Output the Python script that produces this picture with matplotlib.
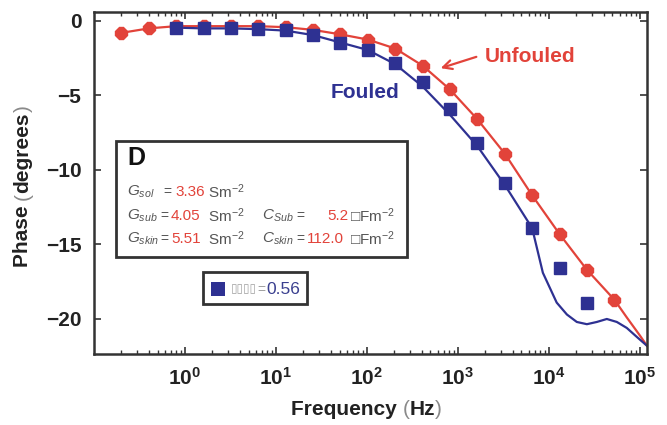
import math
import matplotlib
matplotlib.use("Agg")
import matplotlib.pyplot as plt
from matplotlib.patches import Rectangle
from matplotlib.ticker import LogLocator, FixedLocator, FuncFormatter, NullFormatter

plt.rcParams['font.family'] = ['Liberation Sans', 'DejaVu Sans']
plt.rcParams['mathtext.fontset'] = 'custom'
plt.rcParams['mathtext.rm'] = 'Liberation Sans'
plt.rcParams['mathtext.it'] = 'Liberation Sans:italic'
plt.rcParams['mathtext.bf'] = 'Liberation Sans:bold'

# ---- data ----
unfouled_freq = [0.2, 0.4, 0.8, 1.6, 3.2, 6.4, 12.8, 25.6, 51.2, 102.4, 204.8, 409.6,
                 819.2, 1638.4, 3276.8, 6553.6, 13107.2, 26214.4, 52428.8]
unfouled_phase = [-0.8, -0.5, -0.35, -0.35, -0.35, -0.35, -0.42, -0.6, -0.9, -1.25, -1.85,
                  -3.0, -4.6, -6.6, -8.9, -11.7, -14.3, -16.7, -18.7]

fouled_freq = [0.8, 1.6, 3.2, 6.4, 12.8, 25.6, 51.2, 102.4, 204.8, 409.6, 819.2, 1638.4,
               3276.8, 6553.6, 13107.2, 26214.4]
fouled_phase = [-0.45, -0.5, -0.5, -0.55, -0.62, -0.95, -1.45, -1.95, -2.8, -4.1, -5.9,
                -8.2, -10.9, -13.9, -16.6, -18.9]

# fitted model curves
unfouled_fit_freq = [0.2, 0.4, 0.8, 1.6, 3.2, 6.4, 12.8, 25.6, 51.2, 102.4, 204.8, 409.6,
                     819.2, 1638.4, 3276.8, 6553.6, 13107.2, 26214.4, 52428.8, 72000,
                     100000, 120000]
unfouled_fit_phase = [-0.8, -0.5, -0.35, -0.35, -0.35, -0.35, -0.42, -0.6, -0.9, -1.25,
                      -1.85, -3.0, -4.6, -6.6, -8.9, -11.7, -14.3, -16.7, -18.7, -19.9,
                      -21.1, -21.8]

fouled_fit_freq = [0.8, 1.6, 3.2, 6.4, 12.8, 25.6, 51.2, 102.4, 204.8, 409.6, 819.2,
                   1638.4, 3276.8, 6553.6, 8600, 12200, 15800, 20300, 26200, 33700,
                   43400, 55900, 71900, 92600, 120000]
fouled_fit_phase = [-0.45, -0.5, -0.5, -0.55, -0.65, -0.95, -1.45, -1.95, -2.9, -4.4,
                    -6.3, -8.4, -11.0, -13.9, -16.9, -18.9, -19.7, -20.2, -20.35, -20.2,
                    -20.0, -20.2, -20.6, -21.2, -21.8]

yticks = [0, -5, -10, -15, -20]
xticks = [1e0, 1e1, 1e2, 1e3, 1e4, 1e5]

RED = '#E2433A'
BLUE = '#2E3192'
GRAY = '#555555'
LIGHT = '#8a8a8a'
DARK = '#222222'
FRAME = '#333333'

W, H = 667, 425
fig = plt.figure(figsize=(W / 100, H / 100), dpi=100)


def fp(x, y):
    return (x / W, 1 - y / H)


L, R, T, B = 94, 647, 12, 354
ax = fig.add_axes([L / W, 1 - B / H, (R - L) / W, (B - T) / H])

ax.plot(unfouled_fit_freq, unfouled_fit_phase, color=RED, lw=1.6, zorder=2)
ax.plot(fouled_fit_freq, fouled_fit_phase, color=BLUE, lw=1.6, zorder=2)
ax.plot(unfouled_freq, unfouled_phase, ls='none', marker='8', ms=9, color=RED,
        mec=RED, zorder=3)
ax.plot(fouled_freq, fouled_phase, ls='none', marker='s', ms=8, color=BLUE,
        mec=BLUE, zorder=4)

ax.set_xscale('log')
ax.set_xlim(0.1, 1.2e5)
ax.set_ylim(-22.35, 0.6)

ax.xaxis.set_major_locator(FixedLocator(xticks))
ax.xaxis.set_minor_locator(LogLocator(base=10, subs=range(2, 10), numticks=20))
ax.xaxis.set_minor_formatter(NullFormatter())
ax.xaxis.set_major_formatter(FuncFormatter(
    lambda v, p: r'$\mathbf{10^{%d}}$' % round(math.log10(v))))
ax.yaxis.set_major_locator(FixedLocator(yticks))
ax.yaxis.set_major_formatter(FuncFormatter(
    lambda v, p: ('\u2212%d' % abs(v)) if v < 0 else '%d' % v))

ax.tick_params(which='both', direction='in', top=True, right=True, color=FRAME)
ax.tick_params(which='major', length=5, width=1.2)
ax.tick_params(which='minor', length=3, width=1.0)
ax.tick_params(axis='x', labelsize=15, pad=9, labelcolor=DARK)
ax.tick_params(axis='y', labelsize=15, pad=9, labelcolor=DARK)
for lab in ax.get_yticklabels():
    lab.set_fontweight('bold')

for s in ax.spines.values():
    s.set_color(FRAME)
    s.set_linewidth(1.8)


def chain(pieces, start, vertical=False):
    """Draw text pieces one after another; pieces = [(text, weight, color)]."""
    prev = None
    for txt, wt, col in pieces:
        if prev is None:
            if vertical:
                prev = fig.text(*start, txt, fontsize=15, fontweight=wt, color=col,
                                rotation=90, ha='center', va='bottom')
            else:
                prev = fig.text(*start, txt, fontsize=15, fontweight=wt, color=col,
                                ha='left', va='baseline')
        elif vertical:
            prev = ax.annotate(txt, xy=(0.5, 1), xycoords=prev, fontsize=15,
                               fontweight=wt, color=col, rotation=90, ha='center',
                               va='bottom', annotation_clip=False)
        else:
            prev = ax.annotate(txt, xy=(1, 0), xycoords=prev, fontsize=15,
                               fontweight=wt, color=col, ha='left', va='bottom',
                               annotation_clip=False)
    return prev


chain([('Frequency ', 'bold', DARK), ('(', 'normal', LIGHT), ('Hz', 'bold', DARK),
       (')', 'normal', LIGHT)], fp(291, 415))
chain([('Phase ', 'bold', DARK), ('(', 'normal', LIGHT), ('degrees', 'bold', DARK),
       (')', 'normal', LIGHT)], fp(23, 267), vertical=True)

# curve annotations
fig.text(*fp(530, 57), 'Unfouled', fontsize=15, fontweight='bold', color=RED,
         ha='center', va='center')
ax.annotate('', xy=fp(438, 69), xycoords='figure fraction',
            xytext=fp(479, 56), textcoords='figure fraction',
            arrowprops=dict(arrowstyle='->', color=RED, lw=1.6,
                            mutation_scale=16))
fig.text(*fp(365, 92), 'Fouled', fontsize=15, fontweight='bold', color=BLUE,
         ha='center', va='center')

# parameter box
fig.patches.append(Rectangle(fp(116, 257), (407 - 116) / W, (257 - 141) / H,
                             transform=fig.transFigure, fill=True, fc='white',
                             ec=FRAME, lw=2.0, zorder=5))
fig.text(*fp(127, 158), 'D', fontsize=18, fontweight='bold', color='#111111',
         ha='left', va='center', zorder=6)

fs = 11
rows = [
    (192, r'$G_{sol}$', 163, '3.36', 175, 'Sm$^{-2}$', 208, None),
    (216, r'$G_{sub}$', 160, '4.05', 171, 'Sm$^{-2}$', 208,
     (r'$C_{Sub}$', 296, '5.2', 327, '\u25a1Fm$^{-2}$', 350)),
    (239, r'$G_{skin}$', 160, '5.51', 171, 'Sm$^{-2}$', 208,
     (r'$C_{skin}$', 296, '112.0', 307, '\u25a1Fm$^{-2}$', 350)),
]
for y, lab, xe, val, xv, unit, xu, extra in rows:
    fig.text(*fp(127, y), lab, fontsize=fs, color=GRAY, ha='left', va='center', zorder=6)
    fig.text(*fp(xe, y), '=', fontsize=fs - 1, color=GRAY, ha='left', va='center', zorder=6)
    fig.text(*fp(xv, y), val, fontsize=fs, color=RED, ha='left', va='center', zorder=6)
    fig.text(*fp(xu, y), unit, fontsize=fs, color=GRAY, ha='left', va='center', zorder=6)
    if extra:
        l2, x2e, v2, x2v, u2, x2u = extra
        fig.text(*fp(262, y), l2, fontsize=fs, color=GRAY, ha='left', va='center', zorder=6)
        fig.text(*fp(x2e, y), '=', fontsize=fs - 1, color=GRAY, ha='left', va='center', zorder=6)
        fig.text(*fp(x2v, y), v2, fontsize=fs, color=RED, ha='left', va='center', zorder=6)
        fig.text(*fp(x2u, y), u2, fontsize=fs, color=GRAY, ha='left', va='center', zorder=6)

# small legend box
fig.patches.append(Rectangle(fp(203, 304), (307 - 203) / W, (304 - 272) / H,
                             transform=fig.transFigure, fill=True, fc='white',
                             ec=FRAME, lw=2.0, zorder=5))
fig.patches.append(Rectangle(fp(211, 296), 14 / W, 14 / H, transform=fig.transFigure,
                             fc=BLUE, ec=BLUE, lw=0, zorder=6))
fig.text(*fp(231, 289), '\u25af\u25af\u25af\u25af', fontsize=8.5, color='#a0a0a0',
         ha='left', va='center', zorder=6)
fig.text(*fp(257, 290), '=', fontsize=10, color='#a0a0a0', ha='left', va='center', zorder=6)
fig.text(*fp(266, 289), '0.56', fontsize=12.5, color='#3a3f8f', ha='left', va='center',
         zorder=6)

fig.savefig('out.png', dpi=100, facecolor='white')
